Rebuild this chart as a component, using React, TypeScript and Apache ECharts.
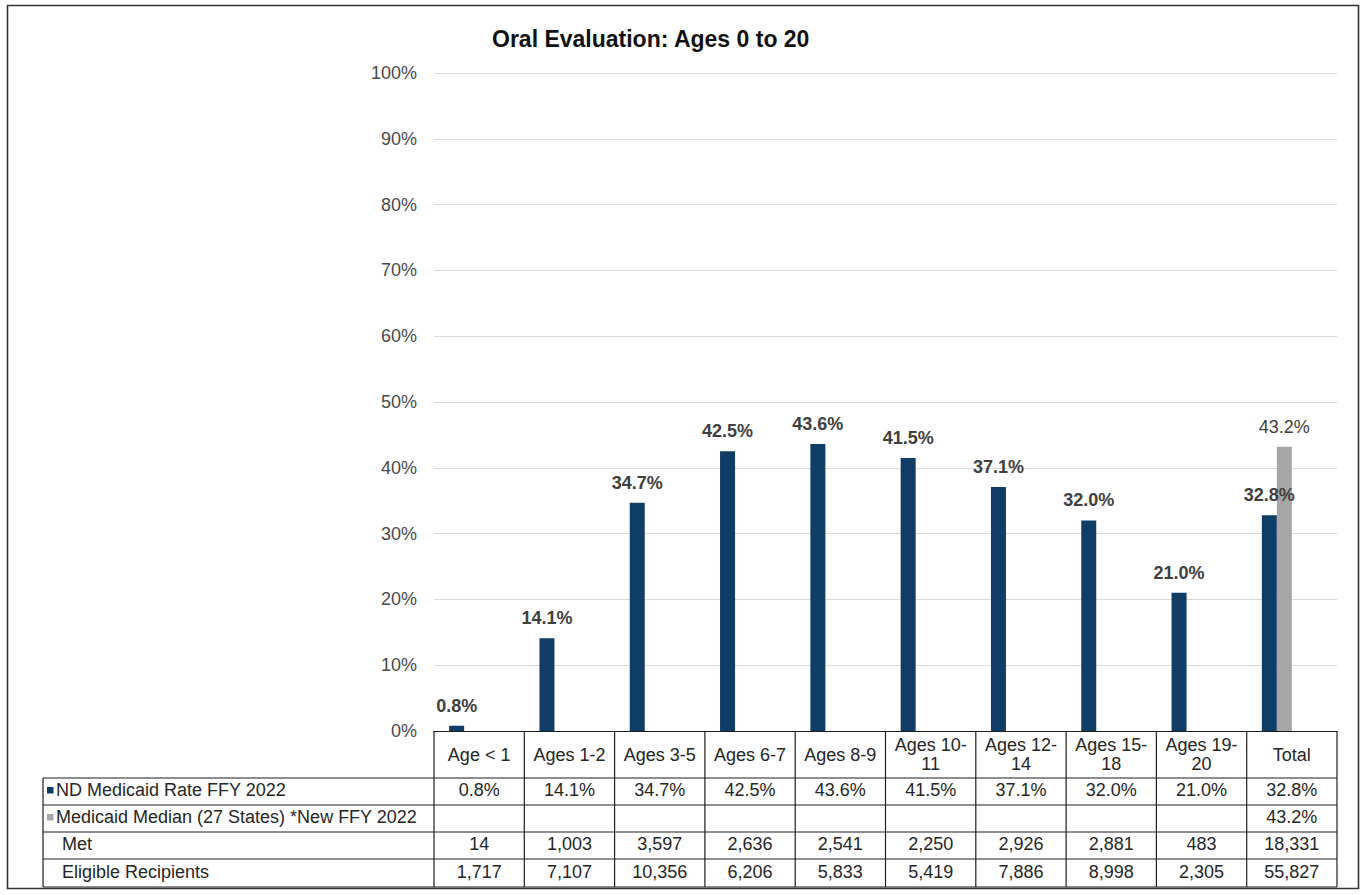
import React, { useEffect, useRef } from "react";
import * as echarts from "echarts";

const categories = [
  "Age < 1",
  "Ages 1-2",
  "Ages 3-5",
  "Ages 6-7",
  "Ages 8-9",
  "Ages 10-\n11",
  "Ages 12-\n14",
  "Ages 15-\n18",
  "Ages 19-\n20",
  "Total",
];
const ndRate = [0.8, 14.1, 34.7, 42.5, 43.6, 41.5, 37.1, 32.0, 21.0, 32.8];
const medianRate: (number | null)[] = [null, null, null, null, null, null, null, null, null, 43.2];
const metCounts = [14, 1003, 3597, 2636, 2541, 2250, 2926, 2881, 483, 18331];
const eligibleCounts = [1717, 7107, 10356, 6206, 5833, 5419, 7886, 8998, 2305, 55827];
const rowLabels = [
  "ND Medicaid Rate FFY 2022",
  "Medicaid Median (27 States) *New FFY 2022",
  "Met",
  "Eligible Recipients",
];
const yMin = 0;
const yMax = 100;
const yInterval = 10;

const TITLE = "Oral Evaluation: Ages 0 to 20";
const BLUE = "#0f3d66";
const GRAY = "#a6a6a6";
const FONT = '"Liberation Sans", Arial, sans-serif';

export default function App() {
  const ref = useRef<HTMLDivElement>(null);
  useEffect(() => {
    if (!ref.current) return;
    const chart = echarts.init(ref.current, null, { renderer: "svg" });

    const gridLeft = 434;
    const gridRight = 1337;
    const gridTop = 73;
    const gridBottom = 731;
    const colW = (gridRight - gridLeft) / categories.length;
    const rowTops = [778, 805, 832, 859, 887];
    const tableLeft = 43;
    const lineColor = "#1f1f1f";
    const lw = 1.2;

    const fmtPct = (v: number) => v.toFixed(1) + "%";
    const fmtNum = (v: number) => v.toLocaleString("en-US");

    const rowValues: string[][] = [
      ndRate.map((v) => fmtPct(v)),
      medianRate.map((v) => (v == null ? "" : fmtPct(v))),
      metCounts.map(fmtNum),
      eligibleCounts.map(fmtNum),
    ];

    const g: any[] = [];
    // outer border
    g.push({
      type: "rect",
      shape: { x: 7.5, y: 5.5, width: 1351, height: 883 },
      style: { fill: "none", stroke: "#333", lineWidth: 1.6 },
      silent: true,
    });
    // horizontal table lines
    rowTops.forEach((y) => {
      g.push({
        type: "line",
        shape: { x1: tableLeft, y1: y, x2: gridRight, y2: y },
        style: { stroke: lineColor, lineWidth: lw },
      });
    });
    // vertical lines (category columns)
    for (let i = 0; i <= categories.length; i++) {
      const x = gridLeft + i * colW;
      g.push({
        type: "line",
        shape: { x1: x, y1: gridBottom, x2: x, y2: rowTops[rowTops.length - 1] },
        style: { stroke: lineColor, lineWidth: lw },
      });
    }
    // left border
    g.push({
      type: "line",
      shape: { x1: tableLeft, y1: rowTops[0], x2: tableLeft, y2: rowTops[rowTops.length - 1] },
      style: { stroke: lineColor, lineWidth: lw },
    });
    // row labels
    rowLabels.forEach((lab, r) => {
      const cy = (rowTops[r] + rowTops[r + 1]) / 2 - 1.5;
      if (r < 2) {
        g.push({
          type: "rect",
          shape: { x: 47, y: cy - 3, width: 6.5, height: 6.5 },
          style: { fill: r === 0 ? BLUE : GRAY },
        });
      }
      g.push({
        type: "text",
        x: r < 2 ? 56 : 62,
        y: cy,
        style: {
          text: lab,
          fill: "#262626",
          font: `18px ${FONT}`,
          verticalAlign: "middle",
          align: "left",
        },
      });
      rowValues[r].forEach((t, i) => {
        if (!t) return;
        g.push({
          type: "text",
          x: gridLeft + (i + 0.5) * colW,
          y: cy,
          style: {
            text: t,
            fill: "#262626",
            font: `18px ${FONT}`,
            verticalAlign: "middle",
            align: "center",
          },
        });
      });
    });

    chart.setOption({
      animation: false,
      title: {
        text: TITLE,
        left: 487,
        top: 22,
        textStyle: { fontFamily: FONT, fontSize: 23, fontWeight: "bold", color: "#111" },
      },
      grid: {
        left: gridLeft,
        top: gridTop,
        width: gridRight - gridLeft,
        height: gridBottom - gridTop,
        containLabel: false,
      },
      xAxis: {
        type: "category",
        data: categories,
        axisTick: { show: false },
        axisLine: { show: true, lineStyle: { color: lineColor, width: lw } },
        axisLabel: {
          interval: 0,
          margin: 23.5,
          verticalAlign: "middle",
          lineHeight: 19,
          fontFamily: FONT,
          fontSize: 18,
          color: "#262626",
        },
      },
      yAxis: {
        type: "value",
        min: yMin,
        max: yMax,
        interval: yInterval,
        axisLine: { show: false },
        axisTick: { show: false },
        splitLine: { lineStyle: { color: "#d9d9d9", width: 1 } },
        axisLabel: {
          margin: 17,
          fontFamily: FONT,
          fontSize: 18,
          color: "#4a4a4a",
          formatter: (v: number) => v + "%",
        },
      },
      series: [
        {
          name: rowLabels[0],
          type: "bar",
          data: ndRate,
          barWidth: 15,
          barGap: "0%",
          itemStyle: { color: BLUE },
          label: {
            show: true,
            position: "top",
            distance: 11,
            fontFamily: FONT,
            fontSize: 18,
            fontWeight: "bold",
            color: "#404040",
            formatter: (p: any) => fmtPct(p.value),
          },
        },
        {
          name: rowLabels[1],
          type: "bar",
          data: medianRate.map((v) => (v == null ? "-" : v)),
          barWidth: 15,
          barGap: "0%",
          itemStyle: { color: GRAY },
          label: {
            show: true,
            position: "top",
            distance: 11,
            fontFamily: FONT,
            fontSize: 18,
            color: "#404040",
            formatter: (p: any) => (typeof p.value === "number" ? fmtPct(p.value) : ""),
          },
        },
        { name: rowLabels[2], type: "bar", data: [], barWidth: 15, barGap: "0%" },
        { name: rowLabels[3], type: "bar", data: [], barWidth: 15, barGap: "0%" },
      ],
      graphic: g,
    });

    return () => chart.dispose();
  }, []);

  return (
    <div
      ref={ref}
      style={{ position: "absolute", left: 0, top: 0, width: 1364, height: 895, background: "#fff" }}
    />
  );
}
